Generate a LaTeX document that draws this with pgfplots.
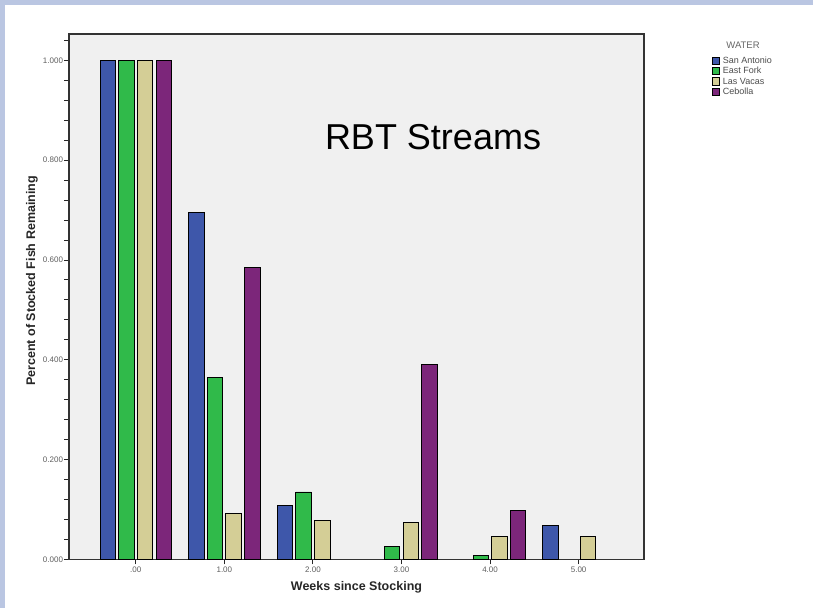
\documentclass[border=0pt]{standalone}
\usepackage{pgfplots}
\pgfplotsset{compat=1.18}
\usepackage{fontspec}
\setmainfont{Liberation Sans}
\definecolor{cblue}{RGB}{62,87,170}
\definecolor{cgreen}{RGB}{48,186,74}
\definecolor{ctan}{RGB}{212,206,150}
\definecolor{cpurple}{RGB}{124,38,122}
\definecolor{plotbg}{RGB}{240,240,240}
\definecolor{slidebg}{RGB}{186,198,226}
\definecolor{ticktext}{RGB}{95,95,95}
\begin{document}
\begin{tikzpicture}
\fill[slidebg] (0pt,0pt) rectangle (813pt,608pt);
\fill[white] (5pt,0pt) rectangle (813pt,603pt);
\useasboundingbox (0pt,0pt) rectangle (813pt,608pt);
\begin{axis}[
  at={(69pt,48.7pt)}, anchor=south west,
  scale only axis, width=575pt, height=525.3pt,
  xmin=-0.754, xmax=5.738, ymin=0, ymax=1.053,
  axis background/.style={fill=plotbg},
  axis line style={draw=black!80, line width=1.2pt},
  ybar, bar width=15.5pt,
  legend image code/.code={\draw[#1, line width=0.9pt] (0pt,-3.6pt) rectangle (7.2pt,3.6pt);},
  xtick={0,1,2,3,4,5}, xticklabels={.00,1.00,2.00,3.00,4.00,5.00},
  ytick={0,0.2,0.4,0.6,0.8,1.0}, yticklabels={0.000,0.200,0.400,0.600,0.800,1.000},
  minor ytick={0.04,0.08,0.12,0.16,0.24,0.28,0.32,0.36,0.44,0.48,0.52,0.56,0.64,0.68,0.72,0.76,0.84,0.88,0.92,0.96,1.04},
  tick align=outside, xtick pos=bottom, ytick pos=left,
  major tick length=5pt, minor tick length=5pt,
  every tick/.style={black!85, line width=0.9pt},
  /pgf/number format/assume math mode=true,
  ticklabel style={font=\fontsize{8}{9}\selectfont, text=ticktext},
  yticklabel style={xshift=2.5pt},
  xticklabel style={yshift=1pt},
  xlabel={Weeks since Stocking},
  xlabel style={at={(axis description cs:0.5,0)}, anchor=base, yshift=-31.4pt, font=\bfseries\fontsize{12.5}{14}\selectfont, text=black!85},
  ylabel={Percent of Stocked Fish Remaining},
  ylabel style={at={(axis description cs:-0.0643,0.53)}, anchor=center, font=\bfseries\fontsize{12.5}{14}\selectfont, text=black!85},
  legend style={at={(rel axis cs:1.1175,0.9584)}, anchor=north west, draw=none, fill=none,
    font=\fontsize{9}{10}\selectfont, text=black!70, inner sep=0pt, row sep=0pt, column sep=2pt,
    nodes={inner sep=1.1pt, text height=6.5pt, text depth=1.5pt}},
  legend cell align=left,
]
\addplot[draw=black, line width=0.9pt, fill=cblue, bar shift=-28pt]
  coordinates {(0,1.000) (1,0.695) (2,0.107) (5,0.067)};
\addplot[draw=black, line width=0.9pt, fill=cgreen, bar shift=-9.3pt]
  coordinates {(0,1.000) (1,0.364) (2,0.135) (3,0.025) (4,0.008)};
\addplot[draw=black, line width=0.9pt, fill=ctan, bar shift=9.3pt]
  coordinates {(0,1.000) (1,0.091) (2,0.077) (3,0.073) (4,0.046) (5,0.046)};
\addplot[draw=black, line width=0.9pt, fill=cpurple, bar shift=28pt]
  coordinates {(0,1.000) (1,0.585) (3,0.391) (4,0.097)};
\legend{San Antonio, East Fork, Las Vacas, Cebolla}
\node[anchor=base, font=\fontsize{36}{40}\selectfont] at (axis cs:3.356,0.822) {RBT Streams};
\end{axis}
\node[font=\fontsize{9.5}{10}\selectfont, text=black!60, anchor=base] at (743pt,559.7pt) {WATER};
\end{tikzpicture}
\end{document}
